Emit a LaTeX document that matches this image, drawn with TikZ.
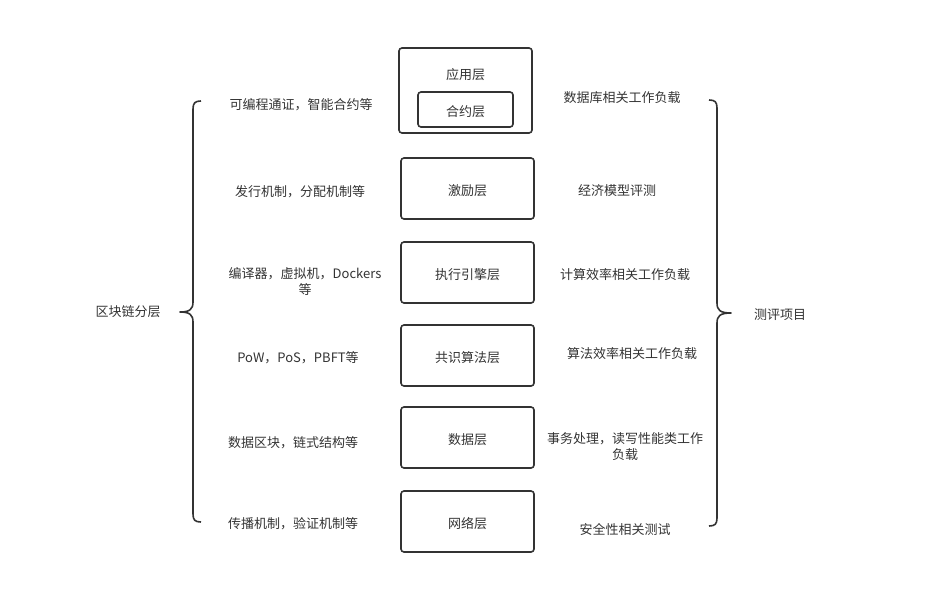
\documentclass[tikz,border=0pt]{standalone}
\usepackage{fontspec}
\setmainfont{Noto Sans CJK SC}
\usetikzlibrary{decorations.pathreplacing}
\definecolor{ink}{HTML}{333333}
\begin{document}
\begin{tikzpicture}[x=1pt,y=-1pt,
  layerbox/.style={draw=ink,line width=1.6pt,rounded corners=3pt,fill=white},
  lbl/.style={text=ink,font=\fontsize{13}{16}\selectfont,align=center,inner sep=0pt,yshift=-1.5pt},
  brace/.style={draw=ink,line width=1.6pt,line join=round}]
\useasboundingbox (0,0) rectangle (928,615);
% boxes
\draw[layerbox] (399,48) rectangle (532,133);
\node[lbl] (app) at (465.5,73) {应用层};
\draw[layerbox] (418,92) rectangle (513,127);
\node[lbl] (contract) at (465.5,110) {合约层};
\draw[layerbox] (401,158) rectangle (534,219);
\node[lbl] (inc) at (467.5,189) {激励层};
\draw[layerbox] (401,242) rectangle (534,303);
\node[lbl] (exe) at (467.5,273) {执行引擎层};
\draw[layerbox] (401,325) rectangle (534,386);
\node[lbl] (con) at (467.5,356) {共识算法层};
\draw[layerbox] (401,407) rectangle (534,468);
\node[lbl] (dat) at (467.5,438) {数据层};
\draw[layerbox] (401,491) rectangle (534,552);
\node[lbl] (net) at (467.5,522) {网络层};
% left texts
\node[lbl] (l1) at (301,103) {可编程通证，智能合约等};
\node[lbl] (l2) at (300,190) {发行机制，分配机制等};
\node[lbl] (l3) at (305,280) {编译器，虚拟机，Dockers\\等};
\node[lbl] (l4) at (298,356) {PoW，PoS，PBFT等};
\node[lbl] (l5) at (293,441) {数据区块，链式结构等};
\node[lbl] (l6) at (293,522) {传播机制，验证机制等};
% right texts
\node[lbl] (r1) at (622,96) {数据库相关工作负载};
\node[lbl] (r2) at (617,189) {经济模型评测};
\node[lbl] (r3) at (625,273) {计算效率相关工作负载};
\node[lbl] (r4) at (632,352) {算法效率相关工作负载};
\node[lbl] (r5) at (625,445) {事务处理，读写性能类工作\\负载};
\node[lbl] (r6) at (625,528) {安全性相关测试};
% side labels
\node[lbl] (left) at (128,310) {区块链分层};
\node[lbl] (right) at (780,313) {测评项目};
% braces
\coordinate (lt) at (201,101);
\coordinate (lb) at (201,522);
\coordinate (ltip) at (180,312);
\draw[brace] (lt) .. controls (195,101) and (193,103) .. (193,109)
  -- (193,302) .. controls (193,309) and (190,312) .. (ltip)
  .. controls (190,312) and (193,315) .. (193,322)
  -- (193,514) .. controls (193,520) and (195,522) .. (lb);
\coordinate (rt) at (709,100);
\coordinate (rb) at (709,526);
\coordinate (rtip) at (731,313);
\draw[brace] (rt) .. controls (715,100) and (717,102) .. (717,108)
  -- (717,303) .. controls (717,310) and (720,313) .. (rtip)
  .. controls (720,313) and (717,316) .. (717,323)
  -- (717,518) .. controls (717,524) and (715,526) .. (rb);
\end{tikzpicture}
\end{document}
